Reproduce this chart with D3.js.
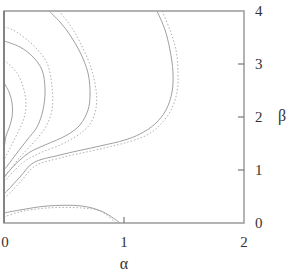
<!DOCTYPE html>
<html>
<head>
<meta charset="utf-8">
<script src="https://cdn.jsdelivr.net/npm/d3@7"></script>
<style>
  html, body { margin: 0; padding: 0; background: #fff; overflow: hidden; }
  svg { display: block; }
</style>
</head>
<body>
<svg width="290" height="275" viewBox="0 0 290 275"></svg>
<script>
// contour levels, exact (solid) and approximate (dotted), as [alpha, beta]
const solidBottom = [[0,0.19],[0.133,0.245],[0.358,0.32],[0.65,0.32],[0.825,0.21],[0.967,0]];
const dottedBottom = [[0,0.113],[0.133,0.21],[0.358,0.283],[0.65,0.283],[0.8,0.226],[0.933,0]];

const solidA = [[1.275,4],[1.342,3.642],[1.383,3.264],[1.408,2.849],[1.4,2.472],[1.35,2.132],
  [1.258,1.868],[1.133,1.679],[1.008,1.566],[0.8,1.453],[0.467,1.283],[0.242,1.132],
  [0.133,0.868],[0.033,0.623],[0,0.547]];
const dottedA = [[1.317,4],[1.383,3.642],[1.433,3.264],[1.45,2.849],[1.442,2.472],[1.392,2.132],
  [1.3,1.849],[1.192,1.66],[1.033,1.528],[0.8,1.396],[0.467,1.226],[0.258,1.075],
  [0.15,0.811],[0.05,0.566],[0,0.472]];

const solidB = [[0.375,4],[0.467,3.792],[0.55,3.547],[0.633,3.226],[0.7,2.83],[0.717,2.415],
  [0.7,2.132],[0.633,1.849],[0.525,1.66],[0.342,1.472],[0.217,1.34],[0.133,1.189],
  [0.05,1.0],[0,0.849]];
const dottedB = [[0.458,4],[0.55,3.736],[0.633,3.415],[0.717,2.981],[0.767,2.509],[0.767,2.17],
  [0.717,1.868],[0.617,1.66],[0.467,1.472],[0.3,1.321],[0.175,1.17],[0.067,0.943],[0,0.774]];

const solidC = [[0,3.434],[0.133,3.321],[0.242,3.132],[0.317,2.887],[0.342,2.509],[0.325,2.132],
  [0.275,1.811],[0.192,1.566],[0.108,1.321],[0.033,1.094],[0,1.0]];
const dottedC = [[0,3.698],[0.075,3.642],[0.242,3.358],[0.358,3.019],[0.4,2.566],[0.4,2.132],
  [0.342,1.792],[0.242,1.509],[0.133,1.245],[0.05,1.0],[0,0.887]];

const solidD = [[0,2.642],[0.042,2.472],[0.067,2.264],[0.067,2.0],[0.042,1.792],[0.017,1.642],[0,1.377]];
const dottedD = [[0,3.075],[0.108,2.83],[0.167,2.509],[0.183,2.226],[0.167,1.981],[0.117,1.717],
  [0.05,1.415],[0,1.189]];

const solidCurves = [solidBottom, solidA, solidB, solidC, solidD];
const dottedCurves = [dottedBottom, dottedA, dottedB, dottedC, dottedD];

const xTicks = [0, 1, 2];
const yTicks = [0, 1, 2, 3, 4];

const font = '"Liberation Serif", "DejaVu Serif", serif';
const svg = d3.select('svg');
const margin = { top: 11, left: 4 };
const innerWidth = 240;
const innerHeight = 212;

const x = d3.scaleLinear().domain([0, 2]).range([margin.left, margin.left + innerWidth]);
const y = d3.scaleLinear().domain([0, 4]).range([margin.top + innerHeight, margin.top]);

const line = d3.line()
  .x(d => x(d[0]))
  .y(d => y(d[1]))
  .curve(d3.curveCatmullRom.alpha(0.5));

svg.append('defs').append('clipPath').attr('id', 'clip')
  .append('rect')
    .attr('x', x(0)).attr('y', y(4))
    .attr('width', innerWidth).attr('height', innerHeight);

const plot = svg.append('g').attr('clip-path', 'url(#clip)');

plot.selectAll('.dotted').data(dottedCurves)
  .enter().append('path')
    .attr('class', 'dotted')
    .attr('d', line)
    .attr('fill', 'none')
    .attr('stroke', '#b0b0b0')
    .attr('stroke-width', 1)
    .attr('stroke-dasharray', '1.5,2');

plot.selectAll('.solid').data(solidCurves)
  .enter().append('path')
    .attr('class', 'solid')
    .attr('d', line)
    .attr('fill', 'none')
    .attr('stroke', '#a0a0a0')
    .attr('stroke-width', 1);

// frame
svg.append('rect')
  .attr('x', x(0)).attr('y', y(4))
  .attr('width', innerWidth).attr('height', innerHeight)
  .attr('fill', 'none')
  .attr('stroke', '#a0a0a0')
  .attr('stroke-width', 1.6);

svg.append('line')
  .attr('x1', x(0)).attr('x2', x(0))
  .attr('y1', y(4)).attr('y2', y(0))
  .attr('stroke', '#666').attr('stroke-width', 1.2);

// inner ticks on bottom and right
svg.selectAll('.xtick').data(xTicks.filter(d => d > 0 && d < 2))
  .enter().append('line')
    .attr('class', 'xtick')
    .attr('x1', d => x(d)).attr('x2', d => x(d))
    .attr('y1', y(0)).attr('y2', y(0) - 6)
    .attr('stroke', '#777').attr('stroke-width', 1.2);

svg.selectAll('.ytick').data(yTicks.filter(d => d > 0 && d < 4))
  .enter().append('line')
    .attr('class', 'ytick')
    .attr('x1', x(2)).attr('x2', x(2) - 6)
    .attr('y1', d => y(d)).attr('y2', d => y(d))
    .attr('stroke', '#777').attr('stroke-width', 1.2);

svg.selectAll('.xlabel').data(xTicks)
  .enter().append('text')
    .attr('class', 'xlabel')
    .attr('x', d => Math.max(x(d), 5))
    .attr('y', 247)
    .attr('text-anchor', 'middle')
    .attr('font-family', font)
    .attr('font-size', 15)
    .attr('fill', '#333')
    .text(d => d);

svg.selectAll('.ylabel').data(yTicks)
  .enter().append('text')
    .attr('class', 'ylabel')
    .attr('x', 255)
    .attr('y', d => y(d) + 5)
    .attr('font-family', font)
    .attr('font-size', 15)
    .attr('fill', '#333')
    .text(d => d);

svg.append('text')
  .attr('x', x(1)).attr('y', 269)
  .attr('text-anchor', 'middle')
  .attr('font-family', font)
  .attr('font-size', 16)
  .attr('fill', '#333')
  .text('α');

svg.append('text')
  .attr('x', 282).attr('y', y(2) + 4)
  .attr('text-anchor', 'middle')
  .attr('font-family', font)
  .attr('font-size', 16)
  .attr('fill', '#333')
  .text('β');
</script>
</body>
</html>
